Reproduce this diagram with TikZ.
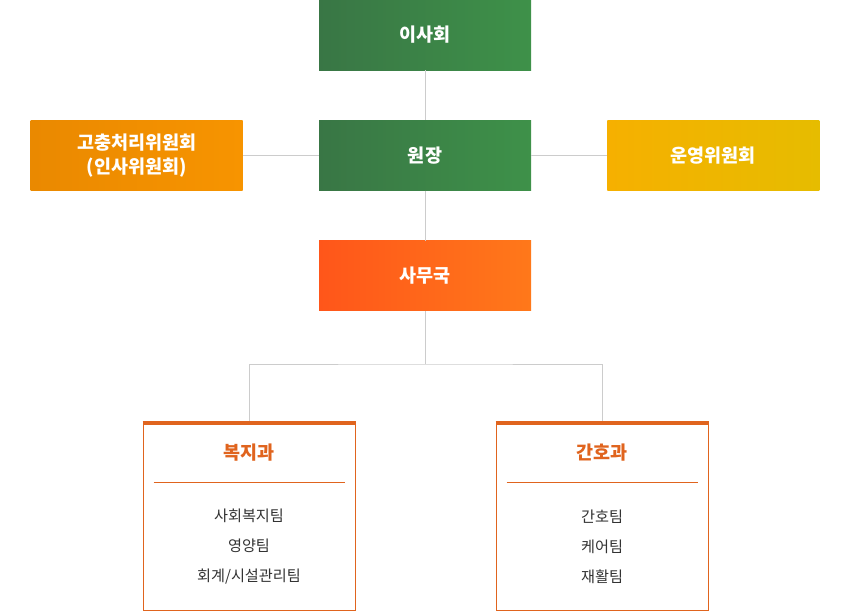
\documentclass[tikz,border=0pt]{standalone}
\usepackage{fontspec}
\setmainfont{Noto Sans CJK KR}
\definecolor{BoardGreenL}{RGB}{57,118,69}
\definecolor{BoardGreenR}{RGB}{62,145,73}
\definecolor{GrievOrangeL}{RGB}{234,137,0}
\definecolor{GrievOrangeR}{RGB}{247,148,0}
\definecolor{SteerYellowL}{RGB}{246,176,0}
\definecolor{SteerYellowR}{RGB}{230,188,0}
\definecolor{OfficeRedL}{RGB}{255,86,26}
\definecolor{OfficeRedR}{RGB}{255,120,26}
\definecolor{DeptOrange}{RGB}{224,100,30}
\definecolor{LinkGray}{RGB}{204,204,204}
\definecolor{TeamGray}{RGB}{51,51,51}
\usetikzlibrary{positioning}

\tikzset{
  orgbox/.style={minimum width=212pt, minimum height=70pt, inner sep=0pt, text=white, align=center, font=\fontsize{18.5}{24}\selectfont\bfseries},
  deptbox/.style={draw=DeptOrange, line width=1pt, fill=white, minimum width=212pt, minimum height=189pt, inner sep=0pt},
  depttitle/.style={text=DeptOrange, font=\fontsize{18.5}{22}\selectfont\bfseries},
  deptteams/.style={text=TeamGray, align=center, font=\fontsize{15.2}{30}\selectfont},
  link/.style={draw=LinkGray, line width=1pt}
}

\begin{document}
\begin{tikzpicture}[x=1pt, y=-1pt]
    \useasboundingbox (0,0) rectangle (850,610);

    \node[orgbox, left color=BoardGreenL, right color=BoardGreenR] (board) at (425,35) {이사회};
    \node[orgbox, left color=BoardGreenL, right color=BoardGreenR, below=50pt of board] (director) {원장};
    \node[orgbox, left color=GrievOrangeL, right color=GrievOrangeR, left=76pt of director] (grievance) {고충처리위원회\\(인사위원회)};
    \node[orgbox, left color=SteerYellowL, right color=SteerYellowR, right=76pt of director] (steering) {운영위원회};
    \node[orgbox, left color=OfficeRedL, right color=OfficeRedR, below=50pt of director] (office) {사무국};

    \draw[link] (board) -- (director);
    \draw[link] (grievance) -- (director);
    \draw[link] (director) -- (steering);
    \draw[link] (director) -- (office);

    % departments
    \node[deptbox, below=110pt of office, xshift=-176pt] (welfare) {};
    \node[deptbox, below=110pt of office, xshift=177pt] (nursing) {};

    \coordinate (fork) at ([yshift=-53pt]office.south);
    \draw[link] (office) -- (fork);
    \draw[link] (welfare.north) |- (fork) -| (nursing.north);

    \draw[DeptOrange, line width=4pt] ([yshift=-1.5pt]welfare.north west) -- ([yshift=-1.5pt]welfare.north east);
    \node[depttitle] (welfaretitle) at ([yshift=-32pt]welfare.north) {복지과};
    \draw[DeptOrange, line width=1pt] ([xshift=11pt, yshift=-61pt]welfare.north west) -- ([xshift=-11pt, yshift=-61pt]welfare.north east);
    \node[deptteams] (welfareteams) at ([yshift=-126pt]welfare.north) {사회복지팀\\영양팀\\회계/시설관리팀};

    \draw[DeptOrange, line width=4pt] ([yshift=-1.5pt]nursing.north west) -- ([yshift=-1.5pt]nursing.north east);
    \node[depttitle] (nursingtitle) at ([yshift=-32pt]nursing.north) {간호과};
    \draw[DeptOrange, line width=1pt] ([xshift=11pt, yshift=-61pt]nursing.north west) -- ([xshift=-11pt, yshift=-61pt]nursing.north east);
    \node[deptteams] (nursingteams) at ([yshift=-126pt]nursing.north) {간호팀\\케어팀\\재활팀};
\end{tikzpicture}
\end{document}
